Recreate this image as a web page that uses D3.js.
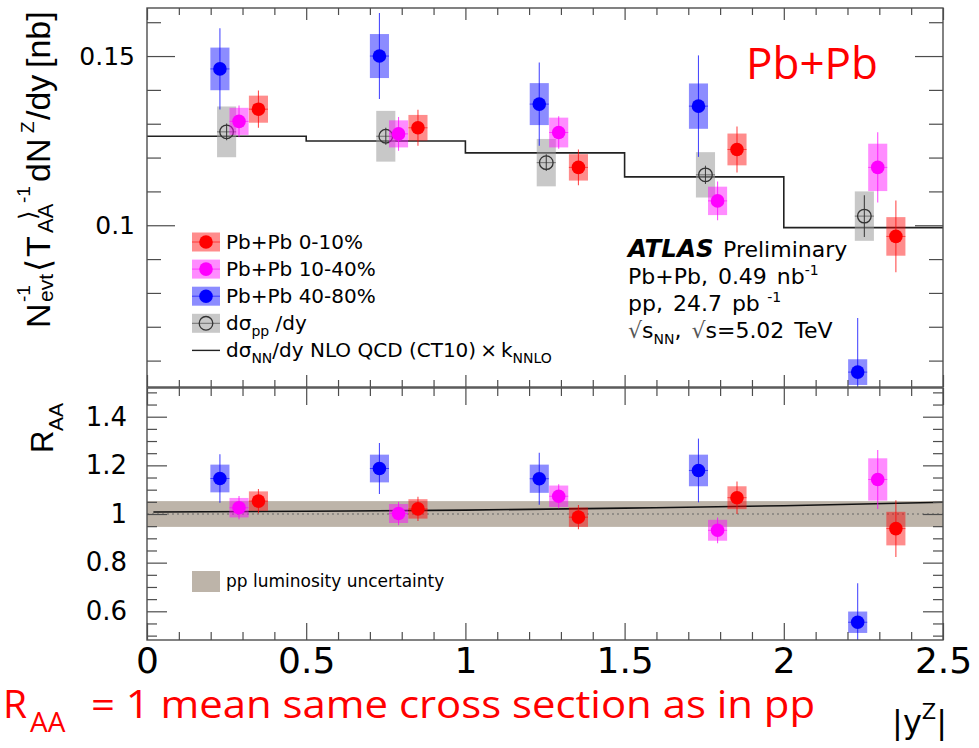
<!DOCTYPE html>
<html lang="en">
<head>
<meta charset="UTF-8">
<title>Z yields in Pb+Pb vs rapidity</title>
<style>
  body { margin: 0; background: #fff; }
  svg { display: block; font-family: "DejaVu Sans", sans-serif; }
</style>
</head>
<body>
<svg width="979" height="748" id="svg"></svg>
<script src="https://d3js.org/d3.v7.min.js"></script>
<script>
// rapidity bins and the NLO x k_NNLO prediction per bin (nb)
var binEdges = [0, 0.5, 1, 1.5, 2, 2.5];
var theoryYield = [0.1263, 0.1249, 0.1214, 0.1143, 0.0993];

// |y| positions of the points (each series is shifted inside the bin)
var xPP = [0.250, 0.750, 1.254, 1.754, 2.253];
var x4080 = [0.229, 0.730, 1.232, 1.732, 2.232];
var x1040 = [0.289, 0.790, 1.293, 1.792, 2.295];
var x010 = [0.350, 0.851, 1.355, 1.853, 2.352];

// normalised yields [nb], stat (bars) and syst (boxes) half widths
var yieldPP = [0.1276, 0.1263, 0.1185, 0.1149, 0.1027];
var statPP = [0.0025, 0.0025, 0.0025, 0.0027, 0.0062];
var systPP = [0.0075, 0.0075, 0.0070, 0.0067, 0.0073];

var yield4080 = [0.1462, 0.1500, 0.1358, 0.1352, 0.0566];
var stat4080 = [0.0120, 0.0127, 0.0123, 0.0150, 0.0160];
var syst4080 = [0.0063, 0.0065, 0.0062, 0.0067, 0.0038];

var yield1040 = [0.1307, 0.1270, 0.1274, 0.1072, 0.1171];
var stat1040 = [0.0047, 0.0050, 0.0048, 0.0057, 0.0104];
var syst1040 = [0.0040, 0.0040, 0.0044, 0.0042, 0.0070];

var yield010 = [0.1343, 0.1288, 0.1171, 0.1224, 0.0967];
var stat010 = [0.0055, 0.0053, 0.0053, 0.0068, 0.0106];
var syst010 = [0.0040, 0.0038, 0.0039, 0.0047, 0.0057];

// R_AA
var raa4080 = [1.146, 1.187, 1.145, 1.179, 0.555];
var raaStat4080 = [0.100, 0.105, 0.107, 0.131, 0.160];
var raaSyst4080 = [0.057, 0.057, 0.058, 0.065, 0.044];

var raa1040 = [1.026, 1.002, 1.073, 0.933, 1.142];
var raaStat1040 = [0.048, 0.048, 0.049, 0.053, 0.121];
var raaSyst1040 = [0.040, 0.039, 0.044, 0.043, 0.087];

var raa010 = [1.053, 1.021, 0.987, 1.067, 0.940];
var raaStat010 = [0.050, 0.050, 0.050, 0.067, 0.117];
var raaSyst010 = [0.040, 0.040, 0.040, 0.047, 0.069];

// NN/pp prediction ratio and pp luminosity band
var raaTheoryX = [0.02, 0.5, 1.0, 1.5, 2.0, 2.5];
var raaTheory = [1.008, 1.011, 1.016, 1.024, 1.034, 1.048];
var lumiUnc = 0.053;

var yTopMajor = [0.1, 0.15];
var yTopMinor = [0.06, 0.07, 0.08, 0.09, 0.11, 0.12, 0.13, 0.14, 0.16];
var yBotMajor = [0.6, 0.8, 1, 1.2, 1.4];
var yBotMinor = [0.5, 0.55, 0.65, 0.7, 0.75, 0.85, 0.9, 0.95, 1.05, 1.1, 1.15, 1.25, 1.3, 1.35, 1.45, 1.5];
var xMajor = [0, 0.5, 1, 1.5, 2, 2.5];
var xMinor = d3.range(1, 25).map(function (i) { return i / 10; }).filter(function (v) { return Math.abs(v * 2 - Math.round(v * 2)) > 1e-6; });

var svg = d3.select("svg");
var L = 147, R = 943;
var topT = 8, topB = 387, botT = 388, botB = 640;

var x = d3.scaleLinear().domain([0, 2.5]).range([L, R]);
var yTop = d3.scaleLinear().domain([0.0522, 0.1642]).range([topB, topT]);
var yBot = d3.scaleLinear().domain([0.482, 1.518]).range([botB, botT]);

var boxHalf = 0.03; // half width of syst boxes in |y|
var frameCol = "#4d4d4d";

var defs = svg.append("defs");
defs.append("clipPath").attr("id", "clipTop").append("rect")
    .attr("x", L).attr("y", topT).attr("width", R - L).attr("height", topB - topT);
defs.append("clipPath").attr("id", "clipBot").append("rect")
    .attr("x", L).attr("y", botT).attr("width", R - L).attr("height", botB - botT);

var gTop = svg.append("g").attr("clip-path", "url(#clipTop)");
var gBot = svg.append("g").attr("clip-path", "url(#clipBot)");

function pack(xs, vals, stat, syst) {
    return xs.map(function (d, i) { return { x: d, v: vals[i], stat: stat[i], syst: syst[i] }; });
}

var colRed = "#ff0000", colMag = "#ff00ff", colBlue = "#0000ff";

function drawSeries(g, y, data, col, boxFill, boxOpacity, open) {
    var s = g.append("g");
    s.selectAll("rect").data(data).enter().append("rect")
        .attr("x", function (d) { return x(d.x - boxHalf); })
        .attr("width", function (d) { return x(d.x + boxHalf) - x(d.x - boxHalf); })
        .attr("y", function (d) { return y(d.v + d.syst); })
        .attr("height", function (d) { return y(d.v - d.syst) - y(d.v + d.syst); })
        .attr("fill", boxFill).attr("fill-opacity", boxOpacity);
    var lineCol = open ? "#333" : col;
    s.selectAll("line.ev").data(data).enter().append("line").attr("class", "ev")
        .attr("x1", function (d) { return x(d.x); }).attr("x2", function (d) { return x(d.x); })
        .attr("y1", function (d) { return y(d.v + d.stat); })
        .attr("y2", function (d) { return y(d.v - d.stat); })
        .attr("stroke", lineCol).attr("stroke-width", 1.1).attr("stroke-opacity", open ? 0.9 : 0.7);
    s.selectAll("line.eh").data(data).enter().append("line").attr("class", "eh")
        .attr("x1", function (d) { return x(d.x - boxHalf); }).attr("x2", function (d) { return x(d.x + boxHalf); })
        .attr("y1", function (d) { return y(d.v); }).attr("y2", function (d) { return y(d.v); })
        .attr("stroke", lineCol).attr("stroke-width", 1).attr("stroke-opacity", 0.6);
    s.selectAll("circle").data(data).enter().append("circle")
        .attr("cx", function (d) { return x(d.x); })
        .attr("cy", function (d) { return y(d.v); })
        .attr("r", 6.8)
        .attr("fill", open ? "none" : col)
        .attr("stroke", open ? "#333" : "none")
        .attr("stroke-width", 1.3);
}

// ---- upper pad: yields ----
var step = [];
theoryYield.forEach(function (v, i) { step.push([binEdges[i], v]); step.push([binEdges[i + 1], v]); });
gTop.append("path")
    .attr("d", d3.line().x(function (d) { return x(d[0]); }).y(function (d) { return yTop(d[1]); })(step))
    .attr("fill", "none").attr("stroke", "#222").attr("stroke-width", 1.6);

drawSeries(gTop, yTop, pack(xPP, yieldPP, statPP, systPP), "#333", "#9b9b9b", 0.55, true);
drawSeries(gTop, yTop, pack(x4080, yield4080, stat4080, syst4080), colBlue, colBlue, 0.45, false);
drawSeries(gTop, yTop, pack(x1040, yield1040, stat1040, syst1040), colMag, colMag, 0.45, false);
drawSeries(gTop, yTop, pack(x010, yield010, stat010, syst010), colRed, colRed, 0.45, false);

// ---- lower pad: R_AA ----
gBot.append("rect")
    .attr("x", x(0)).attr("width", x(2.5) - x(0))
    .attr("y", yBot(1 + lumiUnc)).attr("height", yBot(1 - lumiUnc) - yBot(1 + lumiUnc))
    .attr("fill", "#bdb4a9");
gBot.append("line")
    .attr("x1", x(0)).attr("x2", x(2.5)).attr("y1", yBot(1)).attr("y2", yBot(1))
    .attr("stroke", "#666").attr("stroke-width", 1.2).attr("stroke-dasharray", "2,3");
gBot.append("path")
    .datum(raaTheoryX.map(function (d, i) { return [d, raaTheory[i]]; }))
    .attr("d", d3.line().curve(d3.curveMonotoneX)
        .x(function (d) { return x(d[0]); }).y(function (d) { return yBot(d[1]); }))
    .attr("fill", "none").attr("stroke", "#111").attr("stroke-width", 1.6);

drawSeries(gBot, yBot, pack(x4080, raa4080, raaStat4080, raaSyst4080), colBlue, colBlue, 0.45, false);
drawSeries(gBot, yBot, pack(x1040, raa1040, raaStat1040, raaSyst1040), colMag, colMag, 0.45, false);
drawSeries(gBot, yBot, pack(x010, raa010, raaStat010, raaSyst010), colRed, colRed, 0.45, false);

// ---- frames and ticks ----
function styleAxis(g) {
    g.select(".domain").remove();
    g.selectAll("line").attr("stroke", frameCol).attr("stroke-width", 1.2);
}

function frame(y, t, b, yMaj, yMin, yMajLen, yMinLen, xMajLen, xMinLen, labelPad, labelSize, xLabels) {
    svg.append("rect").attr("x", L).attr("y", t).attr("width", R - L).attr("height", b - t)
        .attr("fill", "none").attr("stroke", frameCol).attr("stroke-width", 1.4);

    svg.append("g").attr("transform", "translate(" + L + ",0)")
        .call(d3.axisLeft(y).tickValues(yMaj).tickSize(-yMajLen).tickPadding(labelPad).tickFormat(d3.format("")))
        .call(styleAxis)
        .attr("font-family", "DejaVu Sans").attr("font-size", labelSize).attr("color", "#000");
    svg.append("g").attr("transform", "translate(" + L + ",0)")
        .call(d3.axisLeft(y).tickValues(yMin).tickSize(-yMinLen).tickFormat(""))
        .call(styleAxis);
    svg.append("g").attr("transform", "translate(" + R + ",0)")
        .call(d3.axisRight(y).tickValues(yMaj).tickSize(-yMajLen).tickFormat(""))
        .call(styleAxis);
    svg.append("g").attr("transform", "translate(" + R + ",0)")
        .call(d3.axisRight(y).tickValues(yMin).tickSize(-yMinLen).tickFormat(""))
        .call(styleAxis);

    svg.append("g").attr("transform", "translate(0," + t + ")")
        .call(d3.axisTop(x).tickValues(xMajor).tickSize(-xMajLen).tickFormat(""))
        .call(styleAxis);
    svg.append("g").attr("transform", "translate(0," + t + ")")
        .call(d3.axisTop(x).tickValues(xMinor).tickSize(-xMinLen).tickFormat(""))
        .call(styleAxis);
    svg.append("g").attr("transform", "translate(0," + b + ")")
        .call(d3.axisBottom(x).tickValues(xMajor).tickSize(-xMajLen).tickPadding(7)
            .tickFormat(xLabels ? d3.format("") : ""))
        .call(styleAxis)
        .attr("font-family", "DejaVu Sans").attr("font-size", 36).attr("color", "#000");
    svg.append("g").attr("transform", "translate(0," + b + ")")
        .call(d3.axisBottom(x).tickValues(xMinor).tickSize(-xMinLen).tickFormat(""))
        .call(styleAxis);
}

frame(yTop, topT, topB, yTopMajor, yTopMinor, 28, 14, 12, 7, 12, 25, false);
frame(yBot, botT, botB, yBotMajor, yBotMinor, 20, 10, 17, 8, 20, 26, true);

// ---- axis titles ----
var yt = svg.append("g").attr("transform", "translate(50,328) rotate(-90)")
    .attr("font-family", "Liberation Sans, Arial, sans-serif").attr("fill", "#000");
function piece(g, txt, px, py, size) {
    g.append("text").attr("x", px).attr("y", py).attr("font-size", size).text(txt);
}
piece(yt, "N", 0, 0, 34);
piece(yt, "-1", 26, -20, 19);
piece(yt, "evt", 26, 3, 21);
piece(yt, "\u27E8", 56, 0, 34);
piece(yt, "T", 71, 0, 34);
piece(yt, "AA", 95, 3, 22);
piece(yt, "\u27E9", 108, -14, 24);
piece(yt, "-1", 125, -20, 19);
piece(yt, "dN", 146, 0, 34);
piece(yt, "Z", 195, -16, 19);
piece(yt, "/dy", 208, 0, 34);
piece(yt, "[nb]", 260, 0, 34);

var rt = svg.append("g").attr("transform", "translate(53,453) rotate(-90)")
    .attr("font-family", "Liberation Sans, Arial, sans-serif").attr("fill", "#000");
piece(rt, "R", 0, 0, 31);
piece(rt, "AA", 22, 10, 21);

var xt = svg.append("text").attr("x", 947).attr("y", 733).attr("text-anchor", "end")
    .attr("font-size", 32);
xt.append("tspan").text("|y");
xt.append("tspan").attr("dy", -14).attr("font-size", 21).text("Z");
xt.append("tspan").attr("dy", 14).text("|");

// ---- legend (upper pad) ----
var legRows = [
    { label: "Pb+Pb 0-10%", col: colRed, fill: colRed, op: 0.45, kind: "dot" },
    { label: "Pb+Pb 10-40%", col: colMag, fill: colMag, op: 0.45, kind: "dot" },
    { label: "Pb+Pb 40-80%", col: colBlue, fill: colBlue, op: 0.45, kind: "dot" },
    { label: "pp", col: "#333", fill: "#9b9b9b", op: 0.55, kind: "open" },
    { label: "nn", col: "#222", kind: "line" }
];
var leg = svg.append("g");
legRows.forEach(function (r, i) {
    var cy = 242 + i * 27.1;
    if (r.kind === "line") {
        leg.append("line").attr("x1", 192).attr("x2", 220).attr("y1", cy).attr("y2", cy)
            .attr("stroke", r.col).attr("stroke-width", 1.4);
    } else {
        leg.append("rect").attr("x", 192).attr("y", cy - 9.5).attr("width", 28).attr("height", 19)
            .attr("fill", r.fill).attr("fill-opacity", r.op);
        leg.append("line").attr("x1", 192).attr("x2", 220).attr("y1", cy).attr("y2", cy)
            .attr("stroke", r.col).attr("stroke-opacity", 0.6);
        leg.append("circle").attr("cx", 206).attr("cy", cy).attr("r", 6.8)
            .attr("fill", r.kind === "open" ? "none" : r.col)
            .attr("stroke", r.kind === "open" ? "#333" : "none").attr("stroke-width", 1.3);
    }
    var t = leg.append("text").attr("x", 226).attr("y", cy + 7).attr("font-size", 20);
    if (r.kind === "dot") {
        t.text(r.label);
    } else if (r.kind === "open") {
        t.append("tspan").text("d\u03C3");
        t.append("tspan").attr("dy", 6).attr("font-size", 14).text("pp");
        t.append("tspan").attr("dy", -6).text(" /dy");
    } else {
        t.append("tspan").text("d\u03C3");
        t.append("tspan").attr("dy", 6).attr("font-size", 14).text("NN");
        t.append("tspan").attr("dy", -6).text("/dy NLO QCD (CT10)\u2009\u00D7\u2009k");
        t.append("tspan").attr("dy", 6).attr("font-size", 14).text("NNLO");
    }
});

// ---- legend (lower pad) ----
svg.append("rect").attr("x", 192).attr("y", 571).attr("width", 28).attr("height", 21)
    .attr("fill", "#bdb4a9");
svg.append("text").attr("x", 226).attr("y", 587).attr("font-size", 17)
    .text("pp luminosity uncertainty");

// ---- ATLAS label ----
var info = svg.append("g").attr("font-size", 22);
info.append("text").attr("x", 628).attr("y", 257).attr("font-weight", "bold").attr("font-style", "italic")
    .attr("font-size", 24.5).text("ATLAS");
info.append("text").attr("x", 723).attr("y", 257).text("Preliminary");
var l2 = info.append("text").attr("x", 628).attr("y", 284).attr("word-spacing", 3);
l2.append("tspan").text("Pb+Pb, 0.49 nb");
l2.append("tspan").attr("dy", -9).attr("font-size", 14).text("-1");
var l3 = info.append("text").attr("x", 628).attr("y", 311).attr("word-spacing", 3);
l3.append("tspan").text("pp, 24.7 pb");
l3.append("tspan").attr("dy", -9).attr("font-size", 14).text(" -1");
var l4 = info.append("text").attr("x", 628).attr("y", 338).attr("word-spacing", 3);
l4.append("tspan").attr("fill", "#555").text("\u221A");
l4.append("tspan").text("s");
l4.append("tspan").attr("dy", 6).attr("font-size", 14).text("NN");
l4.append("tspan").attr("dy", -6).text(", ");
l4.append("tspan").attr("fill", "#555").text("\u221A");
l4.append("tspan").text("s=5.02 TeV");

// ---- annotations ----
svg.append("text").attr("x", 746).attr("y", 79).attr("font-family", "Open Sans, sans-serif")
    .attr("font-size", 44).attr("fill", "#ff0000").text("Pb+Pb");

var note = svg.append("g").attr("font-family", "Open Sans, sans-serif").attr("fill", "#ff0000");
note.append("text").attr("x", 3).attr("y", 718).attr("font-size", 39).text("R");
note.append("text").attr("x", 30).attr("y", 732).attr("font-size", 28).text("AA");
note.append("text").attr("x", 91).attr("y", 718).attr("font-size", 38)
    .attr("textLength", 724).attr("lengthAdjust", "spacingAndGlyphs")
    .text("= 1  mean same cross section as in pp");
</script>
</body>
</html>
